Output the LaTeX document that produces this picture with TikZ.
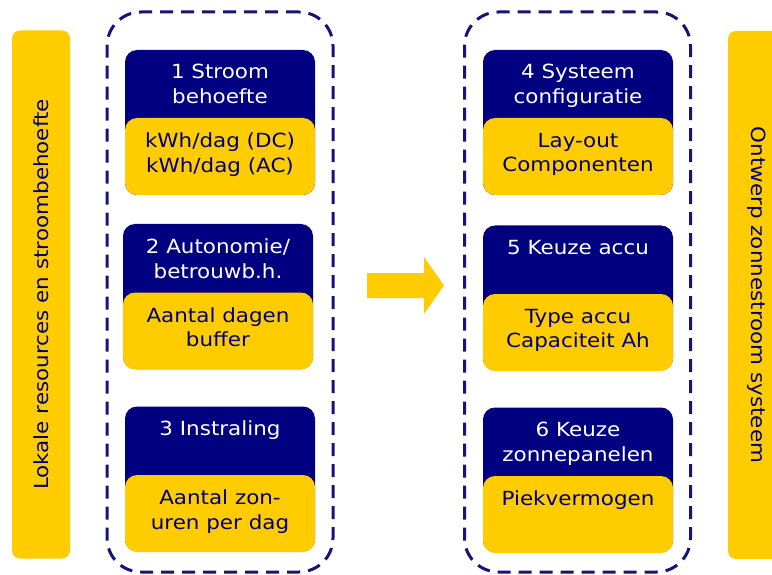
\documentclass[tikz,border=0pt]{standalone}
\usepackage{fontspec}
\setmainfont[FakeStretch=1.1]{DejaVu Sans}
\usepackage{tikz}
\definecolor{navy}{HTML}{000080}
\definecolor{dashnavy}{HTML}{14147A}
\definecolor{sunyellow}{HTML}{FFCC00}
\tikzset{
	titlestyle/.style={rectangle,rounded corners=12pt,fill=navy,minimum width=190pt,minimum height=145pt,inner sep=0pt},
	bodystyle/.style={rectangle,rounded corners=12pt,fill=sunyellow,minimum width=190pt,minimum height=77pt,inner sep=0pt},
	headtext/.style={anchor=north,align=center,inner sep=0pt,text=white,font=\fontsize{19.5}{25}\selectfont},
	bodytext/.style={anchor=north,align=center,inner sep=0pt,text=navy,font=\fontsize{19.5}{24.5}\selectfont},
	barstyle/.style={rectangle,rounded corners=8pt,fill=sunyellow,minimum width=528pt,minimum height=58pt,text=navy,font=\fontsize{19.5}{24}\selectfont},
	groupstyle/.style={rectangle,rounded corners=34pt,draw=dashnavy,line width=3pt,dash pattern=on 13pt off 8pt,minimum width=226pt,minimum height=560pt}
}
\begin{document}
\begin{tikzpicture}[x=1pt,y=-1pt]
		\clip (0,0) rectangle (772,575);
		\fill[white] (0,0) rectangle (772,575);
		% side bars
		\node[barstyle,rotate=90] (lbar) at (41,294.5) {Lokale resources en stroombehoefte};
		\node[barstyle,rotate=-90] (rbar) at (757,295) {Ontwerp zonnestroom systeem};
		% dashed groups
		\node[groupstyle] (lgroup) at (220,292) {};
		\node[groupstyle] (rgroup) at (577.5,292) {};
		% left column
		\node[titlestyle] (s1) at (220,122.5) {};
		\node[bodystyle] (b1) at (220,156.5) {};
		\node[headtext] (t1) at ([yshift=-14.5pt]s1.north) {1 Stroom\\behoefte};
		\node[bodytext] (d1) at ([yshift=-15pt]b1.north) {kWh/dag (DC)\\kWh/dag (AC)};
		\node[titlestyle] (s2) at (218,296.5) {};
		\node[bodystyle] (b2) at (218,331) {};
		\node[headtext] (t2) at ([yshift=-14.5pt]s2.north) {2 Autonomie/\\betrouwb.h.};
		\node[bodytext] (d2) at ([yshift=-15pt]b2.north) {Aantal dagen\\buffer};
		\node[titlestyle] (s3) at (220,479) {};
		\node[bodystyle] (b3) at (220,513.5) {};
		\node[headtext] (t3) at ([yshift=-14.5pt]s3.north) {3 Instraling};
		\node[bodytext] (d3) at ([yshift=-15pt]b3.north) {Aantal zon-\\uren per dag};
		% arrow
		\fill[sunyellow] (367,273) -- (424,273) -- (424,257) -- (444,285.5) -- (424,314) -- (424,298) -- (367,298) -- cycle;
		% right column
		\node[titlestyle] (s4) at (578,122.5) {};
		\node[bodystyle] (b4) at (578,156.5) {};
		\node[headtext] (t4) at ([yshift=-14.5pt]s4.north) {4 Systeem\\configuratie};
		\node[bodytext] (d4) at ([yshift=-15pt]b4.north) {Lay-out\\Componenten};
		\node[titlestyle] (s5) at (578,298) {};
		\node[bodystyle] (b5) at (578,332.5) {};
		\node[headtext] (t5) at ([yshift=-14.5pt]s5.north) {5 Keuze accu};
		\node[bodytext] (d5) at ([yshift=-15pt]b5.north) {Type accu\\Capaciteit Ah};
		\node[titlestyle] (s6) at (578,480) {};
		\node[bodystyle] (b6) at (578,514.5) {};
		\node[headtext] (t6) at ([yshift=-14.5pt]s6.north) {6 Keuze\\zonnepanelen};
		\node[bodytext] (d6) at ([yshift=-15pt]b6.north) {Piekvermogen};
\end{tikzpicture}
\end{document}
